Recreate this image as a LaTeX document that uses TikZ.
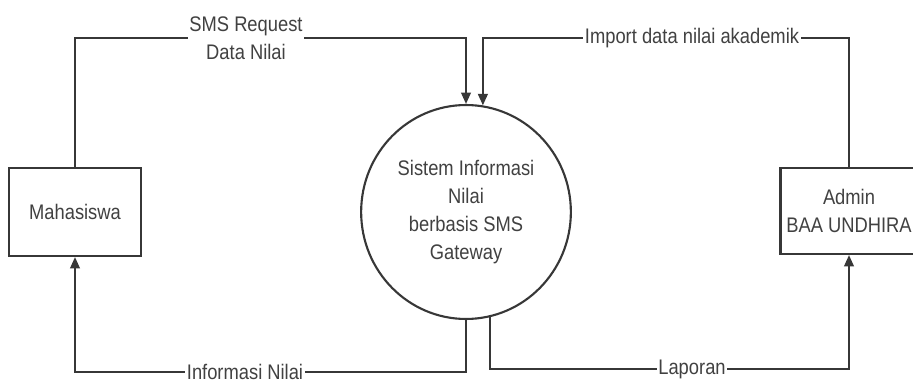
\documentclass[tikz,border=0pt]{standalone}
\usepackage{fontspec}
\setmainfont{Liberation Sans}[FakeStretch=0.87]
\usetikzlibrary{arrows.meta,shapes.geometric}
\definecolor{LineGray}{RGB}{55,55,55}
\definecolor{TextGray}{RGB}{65,65,65}
\tikzset{
  dfdfont/.style={font=\fontsize{12}{15.8}\selectfont},
}
\begin{document}
\begin{tikzpicture}[
  x=0.02cm, y=-0.02cm,
  ent/.style={rectangle, draw=LineGray, fill=white, line width=1.2pt, align=center, text=TextGray, dfdfont},
  proc/.style={ellipse, draw=LineGray, fill=white, line width=1.2pt, align=center, text=TextGray, dfdfont},
  arr/.style={-{Triangle[length=6.5pt,width=5.5pt]}, LineGray, line width=1.2pt},
  lbl/.style={fill=white, inner sep=1pt, align=center, text=TextGray, dfdfont}
]
\useasboundingbox (0,0) rectangle (913,385);
\clip (0,0) rectangle (913,385);

\node[ent, minimum width=2.64cm, minimum height=1.76cm] (mhs) at (75,212) {Mahasiswa};
\node[proc, minimum width=3.28cm, minimum height=4.28cm] (sis) at (466,212) {Sistem Informasi\\Nilai\\berbasis SMS\\Gateway};
\node[ent, minimum width=2.74cm, minimum height=1.72cm] (adm) at (849,211) {Admin\\BAA UNDHIRA};

\coordinate (top) at (0,38);
\coordinate (botL) at (0,372);
\coordinate (botR) at (0,369);

\draw[arr] (mhs.north) -- (mhs.north |- top) -| (sis.north);
\draw[arr] (adm.north) -- (adm.north |- top) -| (sis.81);
\draw[arr] (sis.south) -- (sis.south |- botL) -| (mhs.south);
\draw[arr] (sis.-77) -- (sis.-77 |- botR) -| (adm.south);

\node[lbl] (lreq) at (246,38) {SMS Request\\Data Nilai};
\node[lbl] (limp) at (692,38) {Import data nilai akademik};
\node[lbl] (linf) at (245,372) {Informasi Nilai};
\node[lbl] (llap) at (692,369) {Laporan};
\end{tikzpicture}
\end{document}
